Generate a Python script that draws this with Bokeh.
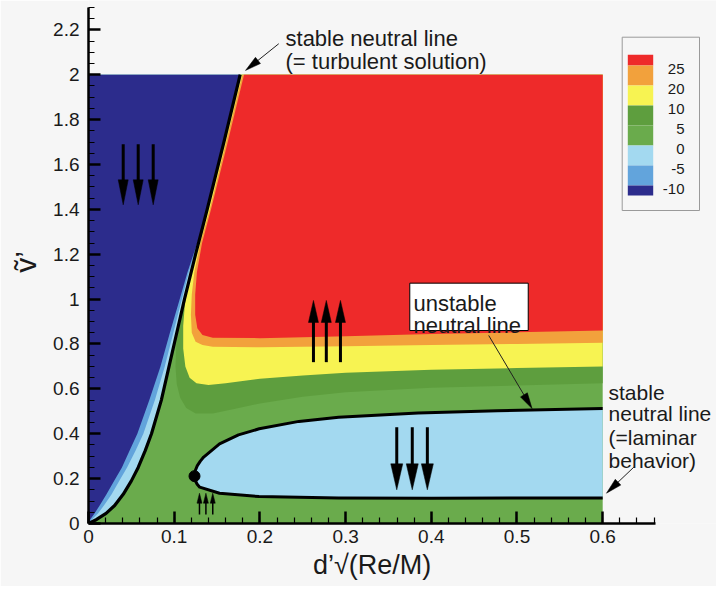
import math
import numpy as np
from bokeh.plotting import figure
from bokeh.models import FixedTicker, CustomJSTickFormatter, Range1d, Title
from bokeh.embed import file_html
from bokeh.resources import INLINE
from bokeh.core.properties import value

# ---------------- values ----------------
LEVEL_LABELS = ["25", "20", "10", "5", "0", "-5", "-10"]
# key colours, top to bottom: >25, 20-25, 10-20, 5-10, 0-5, -5-0, -10--5, <-10
BAND_COLORS = ["#ee2a2a", "#f2a13c", "#f7f352", "#5e9e3e", "#6aab4c",
               "#a3d9f0", "#62a4dc", "#2c2c8c"]

X_MAX, Y_MAX = 0.6, 2.0          # extent of the computed field

# stable neutral line (= turbulent solution) and the -5 / -10 contours left of it
LEFT_Y = [2.0, 1.7, 1.4, 1.3, 1.2, 1.12, 1.0, 0.85, 0.7, 0.55, 0.4, 0.325, 0.25, 0.19, 0.13, 0.08, 0.045, 0.018, 0.0]
TURB_X = [0.177, 0.158, 0.1385, 0.13175, 0.125, 0.1198, 0.112, 0.103, 0.094, 0.085, 0.0735, 0.0662, 0.058, 0.050, 0.0405, 0.0305, 0.0205, 0.0095, 0.0]
M5_X = [0.177, 0.158, 0.1385, 0.1315, 0.1235, 0.117, 0.109, 0.099, 0.089, 0.0775, 0.064, 0.055, 0.045, 0.036, 0.027, 0.018, 0.011, 0.004, 0.0]
M10_X = [0.177, 0.158, 0.1385, 0.1315, 0.1225, 0.1155, 0.1065, 0.095, 0.084, 0.071, 0.057, 0.048, 0.039, 0.030, 0.021, 0.013, 0.007, 0.002, 0.0]

# positive contours right of the turbulent line (top edge -> right edge)
L25_X = [0.1815, 0.1625, 0.143, 0.1325, 0.1265, 0.1245, 0.1245, 0.127, 0.133, 0.145, 0.2, 0.3, 0.4, 0.5, 0.6]
L25_Y = [2.0, 1.7, 1.4, 1.25, 1.12, 1.02, 0.93, 0.87, 0.84, 0.828, 0.826, 0.835, 0.844, 0.852, 0.86]
L20_X = [0.1795, 0.1605, 0.1415, 0.1305, 0.1235, 0.1205, 0.1195, 0.1205, 0.125, 0.133, 0.145, 0.2, 0.3, 0.4, 0.5, 0.6]
L20_Y = [2.0, 1.7, 1.4, 1.25, 1.12, 1.02, 0.93, 0.85, 0.81, 0.795, 0.788, 0.785, 0.79, 0.795, 0.8, 0.805]
L10_X = [0.177, 0.158, 0.1385, 0.1255, 0.1175, 0.1125, 0.1105, 0.1105, 0.113, 0.118, 0.126, 0.14, 0.16, 0.2, 0.25, 0.3, 0.4, 0.5, 0.6]
L10_Y = [2.0, 1.7, 1.4, 1.2, 1.08, 0.98, 0.88, 0.78, 0.7, 0.65, 0.625, 0.617, 0.625, 0.645, 0.66, 0.672, 0.685, 0.693, 0.70]
L5_X = [0.177, 0.158, 0.1385, 0.125, 0.112, 0.106, 0.1025, 0.1015, 0.103, 0.107, 0.114, 0.125, 0.145, 0.17, 0.2, 0.25, 0.3, 0.4, 0.5, 0.6]
L5_Y = [2.0, 1.7, 1.4, 1.2, 1.0, 0.9, 0.8, 0.7, 0.62, 0.56, 0.515, 0.49, 0.49, 0.51, 0.535, 0.565, 0.585, 0.605, 0.615, 0.625]

# unstable / stable (laminar) neutral line: the lobe, from its nose
LOBE_UP_X = [0.1237, 0.1245, 0.127, 0.1305, 0.1344, 0.1529, 0.175, 0.1992, 0.2455, 0.2918, 0.3845, 0.477, 0.6]
LOBE_UP_Y = [0.211, 0.235, 0.258, 0.278, 0.296, 0.355, 0.395, 0.422, 0.455, 0.474, 0.492, 0.503, 0.512]
LOBE_LO_X = [0.1237, 0.1245, 0.1268, 0.1298, 0.1529, 0.199, 0.2918, 0.4, 0.6]
LOBE_LO_Y = [0.211, 0.192, 0.175, 0.162, 0.135, 0.12, 0.114, 0.113, 0.114]

# direction arrows (x positions, tail y, tip y)
ARROW_GROUPS = [
    dict(x=[0.0405, 0.058, 0.0755], tail=1.69, tip=1.42, hl=25, hw=10, lw=3),
    dict(x=[0.2625, 0.2775, 0.294], tail=0.719, tip=0.994, hl=22, hw=10, lw=3),
    dict(x=[0.3597, 0.3778, 0.3954], tail=0.429, tip=0.150, hl=26, hw=12, lw=3),
    dict(x=[0.1295, 0.137, 0.145], tail=0.04, tip=0.135, hl=10, hw=5, lw=1.5),
]
# leader arrows of the annotations: (tail x, tail y, tip x, tip y)
LEADERS = [(0.222, 2.138, 0.1832, 2.019),
           (0.467, 0.838, 0.5176, 0.512),
           (0.6363, 0.251, 0.6044, 0.135)]

NOTE_TEXT = ["stable neutral line", "(= turbulent solution)", "unstable", "neutral line"]
NOTE_X = [0.2299, 0.2299, 0.3792, 0.3792]
NOTE_Y = [2.161, 2.059, 0.979, 0.882]
NOTE_BOX = (0.3749, 0.5131, 0.860, 1.071)   # left, right, bottom, top
SIDE_TEXT = ["stable", "neutral line", "(=laminar", "behavior)"]
SIDE_X = [0.6068] * 4
SIDE_Y = [0.585, 0.489, 0.385, 0.281]

X_TICKS = [0, 0.1, 0.2, 0.3, 0.4, 0.5, 0.6]
Y_TICKS = [0, 0.2, 0.4, 0.6, 0.8, 1.0, 1.2, 1.4, 1.6, 1.8, 2.0, 2.2]
X_AXIS_END = 0.662
Y_AXIS_END = 2.3
X_TITLE = "d’√(Re/M)"

# ---------------- figure ----------------
BG = "#f6f6f6"
FONT = "Liberation Sans"
TXT = "#1a1a1a"
W, H = 716, 586
BL, BB = 88, 63
X1, Y1 = 0.7328, 2.3307
SX = (W - BL) / X1
SY = (H - BB) / Y1

p = figure(width=W, height=H, x_range=Range1d(0, X1), y_range=Range1d(0, Y1),
           output_backend="svg", toolbar_location=None,
           min_border_left=BL, min_border_right=0, min_border_top=0, min_border_bottom=BB,
           background_fill_color=BG, border_fill_color=BG, outline_line_color=None)
p.grid.visible = False

# ----- filled bands -----
p.patch([0, X_MAX, X_MAX, 0], [0, 0, Y_MAX, Y_MAX], fill_color=BAND_COLORS[4], line_color=None)
for cx, cy, col in [(L5_X, L5_Y, BAND_COLORS[3]), (L10_X, L10_Y, BAND_COLORS[2]),
                    (L20_X, L20_Y, BAND_COLORS[1]), (L25_X, L25_Y, BAND_COLORS[0])]:
    p.patch(list(cx) + [X_MAX], list(cy) + [Y_MAX], fill_color=col, line_color=None)
for cx, col in [(TURB_X, BAND_COLORS[5]), (M5_X, BAND_COLORS[6]), (M10_X, BAND_COLORS[7])]:
    p.patch(list(cx) + [0], list(LEFT_Y) + [Y_MAX], fill_color=col, line_color=None)
p.patch(LOBE_UP_X + LOBE_LO_X[::-1], LOBE_UP_Y + LOBE_LO_Y[::-1],
        fill_color=BAND_COLORS[5], line_color=None)

# ----- neutral lines -----
p.line(TURB_X, LEFT_Y, line_color="black", line_width=3.2, line_join="round")
p.line(LOBE_LO_X[::-1] + LOBE_UP_X[1:], LOBE_LO_Y[::-1] + LOBE_UP_Y[1:],
       line_color="black", line_width=3, line_join="round")
p.scatter([LOBE_UP_X[0]], [LOBE_UP_Y[0]], size=11, color="black")


def head(fx, fy, tx, ty, hl, hw):
    dx, dy = (tx - fx) * SX, (ty - fy) * SY
    L = math.hypot(dx, dy)
    ux, uy = dx / L, dy / L
    bx, by = -ux * hl, -uy * hl
    nx, ny = -uy * hw / 2, ux * hw / 2
    xs = [tx, tx + (bx + nx) / SX, tx + (bx - nx) / SX]
    ys = [ty, ty + (by + ny) / SY, ty + (by - ny) / SY]
    base = (tx + bx * 0.8 / SX, ty + by * 0.8 / SY)
    return xs, ys, base


for g in ARROW_GROUPS:
    hx, hy, x0, y0, x1, y1 = [], [], [], [], [], []
    for x in g["x"]:
        xs, ys, base = head(x, g["tail"], x, g["tip"], g["hl"], g["hw"])
        hx.append(xs); hy.append(ys)
        x0.append(x); y0.append(g["tail"]); x1.append(base[0]); y1.append(base[1])
    p.segment(x0, y0, x1, y1, line_color="black", line_width=g["lw"])
    p.patches(hx, hy, fill_color="black", line_color="black", line_width=0.5)

hx, hy, x0, y0, x1, y1 = [], [], [], [], [], []
for fx, fy, tx, ty in LEADERS:
    xs, ys, base = head(fx, fy, tx, ty, 16, 8)
    hx.append(xs); hy.append(ys)
    x0.append(fx); y0.append(fy); x1.append(base[0]); y1.append(base[1])
p.segment(x0, y0, x1, y1, line_color="#202020", line_width=1)
p.patches(hx, hy, fill_color="black", line_color="black", line_width=0.5)

# ----- annotation texts -----
p.quad(left=[NOTE_BOX[0]], right=[NOTE_BOX[1]], bottom=[NOTE_BOX[2]], top=[NOTE_BOX[3]],
       fill_color="white", line_color="black", line_width=1)
p.text(NOTE_X, NOTE_Y, text=NOTE_TEXT, text_font=value(FONT), text_font_size=value("22px"),
       text_color=TXT, text_baseline="alphabetic", text_align="left")
p.text(SIDE_X, SIDE_Y, text=SIDE_TEXT, text_font=value(FONT), text_font_size=value("21px"),
       text_color=TXT, text_baseline="alphabetic", text_align="left")


# ----- colour key -----
def fx_(px):
    return (px - BL) / SX


def fy_(py):
    return (H - BB - py) / SY


KEY_EDGES_PX = [54.3, 65, 85, 105, 125, 145, 165, 185, 195]
p.quad(left=[fx_(621.7)], right=[fx_(699)], bottom=[fy_(210)], top=[fy_(36.7)],
       fill_color=BG, line_color="#9a9a9a", line_width=1)
p.quad(left=[fx_(627.3)] * 8, right=[fx_(652.7)] * 8,
       top=[fy_(v) for v in KEY_EDGES_PX[:-1]], bottom=[fy_(v) for v in KEY_EDGES_PX[1:]],
       fill_color=BAND_COLORS, line_color=None)
p.text([fx_(684)] * 7, [fy_(v + 3) for v in KEY_EDGES_PX[1:-1]], text=LEVEL_LABELS,
       text_font=value(FONT), text_font_size=value("15px"), text_color=TXT,
       text_baseline="middle", text_align="right")

# ----- axes -----
fmt = CustomJSTickFormatter(code="return String(Math.round(tick*10)/10);")
x_minor = [round(v, 2) for v in np.arange(0.02, X_AXIS_END + 1e-9, 0.02)]
y_minor = [round(v, 2) for v in np.arange(0.05, Y_AXIS_END + 1e-9, 0.05)]
for ax, ticks, minor in [(p.xaxis[0], X_TICKS, x_minor), (p.yaxis[0], Y_TICKS, y_minor)]:
    ax.ticker = FixedTicker(ticks=ticks, minor_ticks=minor)
    ax.formatter = fmt
    ax.axis_line_width = 2.5
    ax.axis_line_color = "black"
    ax.major_tick_in = 12
    ax.major_tick_out = 0
    ax.minor_tick_in = 6
    ax.minor_tick_out = 0
    ax.major_tick_line_width = 2.5
    ax.minor_tick_line_width = 1.2
    ax.major_label_text_font = FONT
    ax.major_label_text_font_size = "19px"
    ax.major_label_text_color = TXT
p.xaxis[0].bounds = (0, X_AXIS_END)
p.yaxis[0].bounds = (0, Y_AXIS_END)
p.xaxis[0].major_label_standoff = 6
p.yaxis[0].major_label_standoff = 9
p.yaxis[0].axis_label = "ṽ’"
p.yaxis[0].axis_label_text_font = FONT
p.yaxis[0].axis_label_text_font_size = "30px"
p.yaxis[0].axis_label_text_font_style = "normal"
p.yaxis[0].axis_label_text_color = TXT
p.yaxis[0].axis_label_standoff = 8

# x-axis title, centred on the drawn axis (0 .. X_AXIS_END): left-aligned with an offset
TITLE_PX = 27
title_w = TITLE_PX * 4.38            # approximate advance width of X_TITLE in this font
p.add_layout(Title(text=X_TITLE, align="left",
                   offset=(X_AXIS_END / 2) * SX - title_w / 2,
                   text_font=FONT, text_font_size=f"{TITLE_PX}px", text_font_style="normal",
                   text_color=TXT, standoff=4), "below")

open("out.html", "w").write(file_html(p, INLINE))
